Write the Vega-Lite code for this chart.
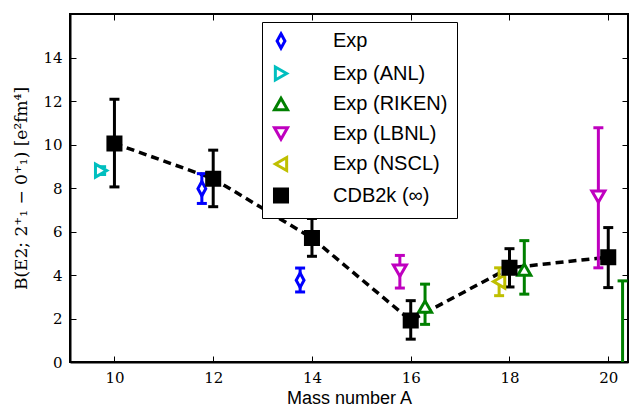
{
  "$schema": "https://vega.github.io/schema/vega-lite/v6.json",
  "width": 558,
  "height": 348,
  "autosize": "none",
  "padding": {"left": 70, "top": 14, "right": 15, "bottom": 46},
  "background": "white",
  "config": {
    "view": {"stroke": "black", "strokeWidth": 2},
    "axis": {"grid": false, "domainColor": "black", "domainWidth": 2, "tickColor": "black", "tickWidth": 1, "labelFont": "DejaVu Serif", "labelFontSize": 15, "labelColor": "black", "titleFont": "Liberation Sans", "titleFontSize": 18, "titleFontWeight": "normal", "titleColor": "black"}
  },
  "data": {
    "values": [
      {"series": "Exp", "A": 11.77, "B": 7.97, "lo": 7.29, "hi": 8.66},
      {"series": "Exp", "A": 13.76, "B": 3.76, "lo": 3.22, "hi": 4.32},
      {"series": "Exp (ANL)", "A": 9.73, "B": 8.8, "lo": 8.62, "hi": 8.98},
      {"series": "Exp (RIKEN)", "A": 16.29, "B": 2.55, "lo": 1.73, "hi": 3.58},
      {"series": "Exp (RIKEN)", "A": 18.3, "B": 4.25, "lo": 3.12, "hi": 5.58},
      {"series": "Exp (RIKEN)", "A": 20.29, "B": -1.5, "lo": -5, "hi": 3.73},
      {"series": "Exp (LBNL)", "A": 15.78, "B": 4.2, "lo": 3.4, "hi": 4.9},
      {"series": "Exp (LBNL)", "A": 19.8, "B": 7.6, "lo": 4.33, "hi": 10.77},
      {"series": "Exp (NSCL)", "A": 17.79, "B": 3.7, "lo": 3.05, "hi": 4.33},
      {"series": "CDB2k (∞)", "A": 10, "B": 10.05, "lo": 8.05, "hi": 12.08},
      {"series": "CDB2k (∞)", "A": 12, "B": 8.43, "lo": 7.14, "hi": 9.74},
      {"series": "CDB2k (∞)", "A": 14, "B": 5.7, "lo": 4.86, "hi": 6.6},
      {"series": "CDB2k (∞)", "A": 16, "B": 1.91, "lo": 1.05, "hi": 2.82},
      {"series": "CDB2k (∞)", "A": 18, "B": 4.33, "lo": 3.45, "hi": 5.21},
      {"series": "CDB2k (∞)", "A": 20, "B": 4.82, "lo": 3.42, "hi": 6.18}
    ]
  },
  "resolve": {"axis": {"x": "independent", "y": "independent"}, "legend": {"color": "independent", "fill": "independent", "shape": "independent"}},
  "layer": [
    {
      "transform": [{"filter": "datum.series === 'CDB2k (∞)'"}],
      "mark": {"type": "line", "color": "black", "strokeWidth": 3.5, "strokeDash": [8, 5], "clip": true},
      "encoding": {
        "x": {"field": "A", "type": "quantitative", "scale": {"domain": [9.1, 20.4], "nice": false, "zero": false},
          "axis": {"orient": "top", "labels": false, "title": null, "domain": false, "tickSize": -6, "values": [10, 12, 14, 16, 18, 20]}},
        "y": {"field": "B", "type": "quantitative", "scale": {"domain": [0, 16], "nice": false},
          "axis": {"orient": "right", "labels": false, "title": null, "domain": false, "tickSize": -6, "values": [0, 2, 4, 6, 8, 10, 12, 14]}}
      }
    },
    {
      "mark": {"type": "rule", "strokeWidth": 3, "clip": true},
      "encoding": {
        "x": {"field": "A", "type": "quantitative", "scale": {"domain": [9.1, 20.4], "nice": false, "zero": false},
          "axis": {"orient": "bottom", "title": "Mass number A", "tickSize": -6, "labelPadding": 14, "titlePadding": 4, "values": [10, 12, 14, 16, 18, 20]}},
        "y": {"field": "lo", "type": "quantitative", "scale": {"domain": [0, 16], "nice": false},
          "axis": {"orient": "left", "title": "B(E2; 2⁺₁ − 0⁺₁) [e²fm⁴]", "titleFont": "DejaVu Serif", "titleFontSize": 17, "titlePadding": 12, "tickSize": -6, "labelPadding": 14, "values": [0, 2, 4, 6, 8, 10, 12, 14]}},
        "y2": {"field": "hi"},
        "color": {"field": "series", "type": "nominal", "legend": null,
          "scale": {"domain": ["Exp", "Exp (ANL)", "Exp (RIKEN)", "Exp (LBNL)", "Exp (NSCL)", "CDB2k (∞)"], "range": ["#0000ff", "#00bfbf", "#008000", "#bf00bf", "#bfbf00", "#000000"]}}
      }
    },
    {
      "mark": {"type": "tick", "orient": "horizontal", "size": 10, "thickness": 3, "opacity": 1, "clip": true},
      "encoding": {
        "x": {"field": "A", "type": "quantitative", "axis": null},
        "y": {"field": "lo", "type": "quantitative", "axis": null},
        "color": {"field": "series", "type": "nominal", "legend": null}
      }
    },
    {
      "mark": {"type": "tick", "orient": "horizontal", "size": 10, "thickness": 3, "opacity": 1, "clip": true},
      "encoding": {
        "x": {"field": "A", "type": "quantitative", "axis": null},
        "y": {"field": "hi", "type": "quantitative", "axis": null},
        "color": {"field": "series", "type": "nominal", "legend": null}
      }
    },
    {
      "mark": {"type": "point", "filled": false, "strokeWidth": 3, "opacity": 1, "clip": true},
      "encoding": {
        "x": {"field": "A", "type": "quantitative", "axis": null},
        "y": {"field": "B", "type": "quantitative", "axis": null},
        "color": {"field": "series", "type": "nominal",
          "legend": {"title": null, "orient": "none", "legendX": 192, "legendY": 8, "direction": "vertical", "strokeColor": "black", "fillColor": "white", "padding": 9, "rowPadding": 5.5, "symbolSize": 170, "symbolStrokeWidth": 3, "symbolOpacity": 1, "labelFont": "Liberation Sans", "labelFontSize": 20, "labelColor": "black", "labelOffset": 42, "cornerRadius": 0}},
        "fill": {"field": "series", "type": "nominal",
          "scale": {"domain": ["Exp", "Exp (ANL)", "Exp (RIKEN)", "Exp (LBNL)", "Exp (NSCL)", "CDB2k (∞)"], "range": ["white", "white", "white", "white", "white", "black"]}},
        "shape": {"field": "series", "type": "nominal",
          "scale": {"domain": ["Exp", "Exp (ANL)", "Exp (RIKEN)", "Exp (LBNL)", "Exp (NSCL)", "CDB2k (∞)"], "range": ["M0,-1.1L0.6,0L0,1.1L-0.6,0Z", "triangle-right", "triangle-up", "triangle-down", "triangle-left", "square"]}},
        "size": {"value": 170}
      }
    }
  ]
}
